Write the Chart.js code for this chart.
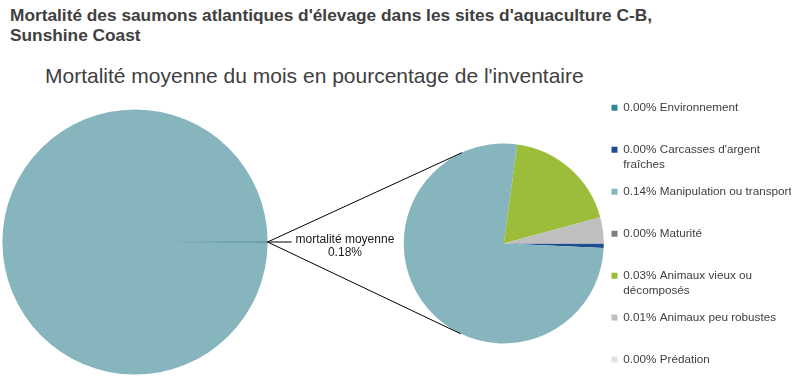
<!DOCTYPE html>
<html>
<head>
<meta charset="utf-8">
<script src="https://cdn.jsdelivr.net/npm/chart.js@4.4.1/dist/chart.umd.min.js"></script>
<style>
  body { margin: 0; background: #fff; }
  #wrap { position: relative; width: 796px; height: 381px; overflow: hidden; font-family: Arial, "Liberation Sans", sans-serif; color: #404040; }
  #wrap canvas { position: absolute; left: 0; top: 0; }
  .title { position: absolute; left: 10px; top: 6px; font-weight: bold; font-size: 17.3px; line-height: 19.5px; }
  .subtitle { position: absolute; left: 45px; top: 63px; font-size: 21px; line-height: 26px; }
</style>
</head>
<body>
<div id="wrap">
  <div class="title">Mortalité des saumons atlantiques d'élevage dans les sites d'aquaculture C-B,<br>Sunshine Coast</div>
  <div class="subtitle">Mortalité moyenne du mois en pourcentage de l'inventaire</div>
  <canvas id="chartMain" width="796" height="381"></canvas>
  <!-- plus haut que le cadre pour centrer le camembert sous la légende -->
  <canvas id="chartDetail" width="796" height="397"></canvas>
</div>
<script>
// ----- données -----
// camembert principal : mortalité vs reste de l'inventaire
var mainLabels = ['mortalité moyenne', 'inventaire'];
var mainValues = [0.18, 99.82];
var mainColors = ['#4f8e98', '#87b5be'];

// camembert secondaire : causes de mortalité (% de l'inventaire)
var causes = ['Environnement', "Carcasses d'argent fraîches", 'Manipulation ou transport', 'Maturité',
  'Animaux vieux ou décomposés', 'Animaux peu robustes', 'Prédation'];
var causeValues = [0, 0.0013, 0.1376, 0, 0.0335, 0.0076, 0];
var causeColors = ['#2f8a94', '#1f4e8c', '#87b5be', '#7f7f7f', '#9bbd3a', '#bfbfbf', '#dbe6e8'];
// texte de légende découpé en lignes
var causeLines = [['Environnement'], ["Carcasses d'argent", 'fraîches'], ['Manipulation ou transport'], ['Maturité'],
  ['Animaux vieux ou', 'décomposés'], ['Animaux peu robustes'], ['Prédation']];

var FONT = 'Arial, "Liberation Sans", sans-serif';

// rotation pour centrer la tranche de mortalité sur l'horizontale
var mainTotal = mainValues.reduce(function(a, b) { return a + b; }, 0);
var mainRotation = 90 - (mainValues[0] / mainTotal) * 360 / 2;

var mainChart = new Chart(document.getElementById('chartMain'), {
  type: 'pie',
  data: { labels: mainLabels, datasets: [{ data: mainValues, backgroundColor: mainColors,
    borderColor: mainColors, borderWidth: [0.8, 0] }] },
  options: {
    responsive: false, animation: false, events: [],
    rotation: mainRotation,
    layout: { padding: { left: 2, top: 109, right: 528, bottom: 6 } },
    plugins: { legend: { display: false }, tooltip: { enabled: false } }
  }
});

// ---- lignes de liaison + étiquette ----
var connectorPlugin = {
  id: 'connector',
  afterDatasetsDraw: function(chart) {
    var ctx = chart.ctx;
    var big = mainChart.getDatasetMeta(0).data[0];
    var mid = (big.startAngle + big.endAngle) / 2;
    var px = big.x + big.outerRadius * Math.cos(mid), py = big.y + big.outerRadius * Math.sin(mid);
    var small = chart.getDatasetMeta(0).data[0];
    var cx = small.x, cy = small.y, R = small.outerRadius;
    var d = Math.hypot(px - cx, py - cy);
    var base = Math.atan2(py - cy, px - cx), t = Math.acos(R / d);
    ctx.save();
    ctx.strokeStyle = '#000'; ctx.lineWidth = 1;
    ctx.beginPath();
    [base + t, base - t].forEach(function(a) {
      ctx.moveTo(px, py);
      ctx.lineTo(cx + R * Math.cos(a), cy + R * Math.sin(a));
    });
    var lineEnd = px + 24;
    ctx.moveTo(px, py); ctx.lineTo(lineEnd, py);
    ctx.stroke();
    // étiquette
    var lines = [mainLabels[0], mainValues[0].toFixed(2) + '%'];
    ctx.font = '12px ' + FONT;
    ctx.fillStyle = '#1a1a1a';
    ctx.textAlign = 'center'; ctx.textBaseline = 'middle';
    var w = Math.max.apply(null, lines.map(function(l) { return ctx.measureText(l).width; }));
    var tx = lineEnd + 4 + w / 2;
    ctx.fillText(lines[0], tx, py - 2.5);
    ctx.fillText(lines[1], tx, py + 11);
    ctx.restore();
  }
};

var detailChart = new Chart(document.getElementById('chartDetail'), {
  type: 'pie',
  data: { labels: causes, datasets: [{ data: causeValues, backgroundColor: causeColors, borderWidth: 0, radius: 100 }] },
  options: {
    responsive: false, animation: false, events: [],
    rotation: 90,
    layout: { padding: { left: 408, top: 90, right: 5, bottom: 0 } },
    plugins: {
      tooltip: { enabled: false },
      legend: {
        position: 'right', align: 'start',
        labels: {
          boxWidth: 6, boxHeight: 6, padding: 12,
          font: { family: FONT, size: 11.7, lineHeight: 1.28 },
          color: '#404040',
          generateLabels: function() {
            return causes.map(function(c, i) {
              var l = causeLines[i];
              return {
                text: [causeValues[i].toFixed(2) + '% ' + l[0], l[1] || ''],
                fillStyle: causeColors[i], strokeStyle: causeColors[i], lineWidth: 0,
                fontColor: '#404040', hidden: false, index: i
              };
            });
          }
        }
      }
    }
  },
  plugins: [connectorPlugin]
});
</script>
</body>
</html>
